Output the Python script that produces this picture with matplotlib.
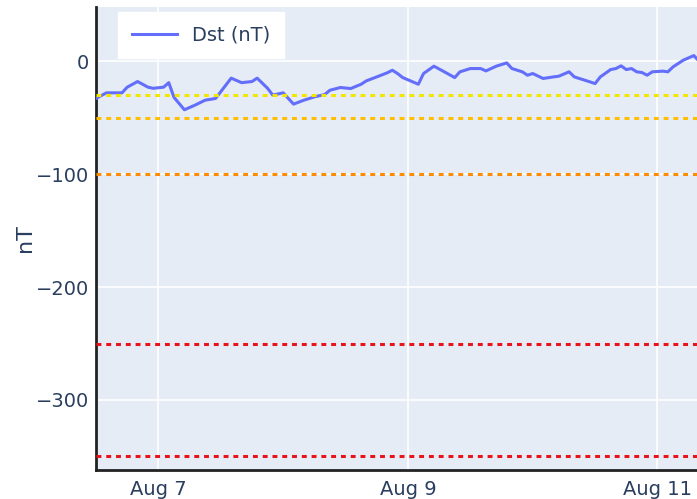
import pandas as pd
import matplotlib.pyplot as plt
import matplotlib.dates as mdates

# Dst index (nT)
times = [
    "2024-08-06 12:00", "2024-08-06 14:00", "2024-08-06 17:00", "2024-08-06 18:00",
    "2024-08-06 20:00", "2024-08-06 22:00", "2024-08-06 23:00", "2024-08-07 01:00",
    "2024-08-07 02:00", "2024-08-07 03:00", "2024-08-07 05:00", "2024-08-07 07:00",
    "2024-08-07 09:00", "2024-08-07 11:00", "2024-08-07 13:00", "2024-08-07 14:00",
    "2024-08-07 16:00", "2024-08-07 18:00", "2024-08-07 19:00", "2024-08-07 21:00",
    "2024-08-07 22:00", "2024-08-08 00:00", "2024-08-08 01:00", "2024-08-08 02:00",
    "2024-08-08 04:00", "2024-08-08 06:00", "2024-08-08 08:00", "2024-08-08 09:00",
    "2024-08-08 11:00", "2024-08-08 13:00", "2024-08-08 15:00", "2024-08-08 16:00",
    "2024-08-08 18:00", "2024-08-08 20:00", "2024-08-08 21:00", "2024-08-08 22:00",
    "2024-08-08 23:00", "2024-08-09 02:00", "2024-08-09 03:00", "2024-08-09 05:00",
    "2024-08-09 07:00", "2024-08-09 09:00", "2024-08-09 10:00", "2024-08-09 12:00",
    "2024-08-09 14:00", "2024-08-09 15:00", "2024-08-09 17:00", "2024-08-09 19:00",
    "2024-08-09 20:00", "2024-08-09 22:00", "2024-08-09 23:00", "2024-08-10 00:00",
    "2024-08-10 02:00", "2024-08-10 04:00", "2024-08-10 05:00", "2024-08-10 07:00",
    "2024-08-10 08:00", "2024-08-10 10:00", "2024-08-10 12:00", "2024-08-10 13:00",
    "2024-08-10 15:00", "2024-08-10 16:00", "2024-08-10 17:00", "2024-08-10 18:00",
    "2024-08-10 19:00", "2024-08-10 20:00", "2024-08-10 21:00", "2024-08-10 22:00",
    "2024-08-10 23:00", "2024-08-11 01:00", "2024-08-11 02:00", "2024-08-11 03:00",
    "2024-08-11 05:00", "2024-08-11 06:00", "2024-08-11 07:00", "2024-08-11 08:00",
]
dst = [
    -33, -28, -28, -23,
    -18, -23, -24, -23,
    -19, -32, -43, -39,
    -34.5, -33, -21, -15,
    -19, -18, -15, -24,
    -30, -28, -33, -38,
    -34.5, -31.6, -29.5, -25.7,
    -23.3, -24.2, -20.4, -17.4,
    -13.9, -10.3, -8, -10.9,
    -14.5, -20.4, -10.9, -4.4,
    -9.4, -14.5, -9.4, -6.5,
    -6.5, -8.6, -4.4, -1.5,
    -6.5, -9.4, -12.4, -10.9,
    -15.3, -13.9, -13.3, -9.4,
    -13.9, -16.8, -19.8, -13.9,
    -7.4, -6.5, -4.1, -7.4,
    -6.5, -9.4, -10, -12.4,
    -9.4, -8.8, -9.4, -5,
    1, 3, 5, 0,
]

# storm level reference lines
levels = [-30, -50, -100, -250, -350]
level_colors = ["#F2E600", "#FFBF00", "#FF8C00", "#E8141B", "#E8141B"]

t = pd.to_datetime(times)

fig = plt.figure(figsize=(6.97, 4.99), dpi=100)
ax = fig.add_axes([96 / 697, 1 - 470 / 499, 1 - 96 / 697, 463 / 499])
ax.set_facecolor("#E5ECF6")

ax.plot(t, dst, color="#636EFA", lw=2.2, label="Dst (nT)", zorder=3)
for lvl, c in zip(levels, level_colors):
    ax.axhline(lvl, color=c, lw=2.2, linestyle=(0, (1.6, 1.6)), zorder=4)

ax.set_xlim(pd.Timestamp("2024-08-06 12:00"), pd.Timestamp("2024-08-11 07:36"))
ax.set_ylim(-362, 48)
ax.set_yticks([0, -100, -200, -300])
ax.xaxis.set_major_locator(mdates.DayLocator(bymonthday=[7, 9, 11]))
ax.xaxis.set_major_formatter(mdates.DateFormatter("%b %-d"))
ax.grid(True, color="white", lw=1.2)
ax.set_axisbelow(True)

for s in ["top", "right"]:
    ax.spines[s].set_visible(False)
for s in ["left", "bottom"]:
    ax.spines[s].set_color("#222222")
    ax.spines[s].set_linewidth(2)

ax.tick_params(axis="x", length=0, labelsize=14, colors="#2a3f5f", pad=7)
ax.tick_params(axis="y", length=0, labelsize=14, colors="#2a3f5f", pad=5)
ax.set_ylabel("nT", fontsize=16, color="#2a3f5f")
ax.yaxis.set_label_coords(-61 / 601, 0.5)

leg = ax.legend(loc="upper left", bbox_to_anchor=(0.037, 0.989), fontsize=14,
                frameon=True, fancybox=False, handlelength=2.3,
                borderpad=0.7, borderaxespad=0, labelcolor="#2a3f5f")
leg.get_frame().set_facecolor("white")
leg.get_frame().set_edgecolor("white")
leg.get_frame().set_alpha(1)

fig.savefig("out.png", dpi=100)
